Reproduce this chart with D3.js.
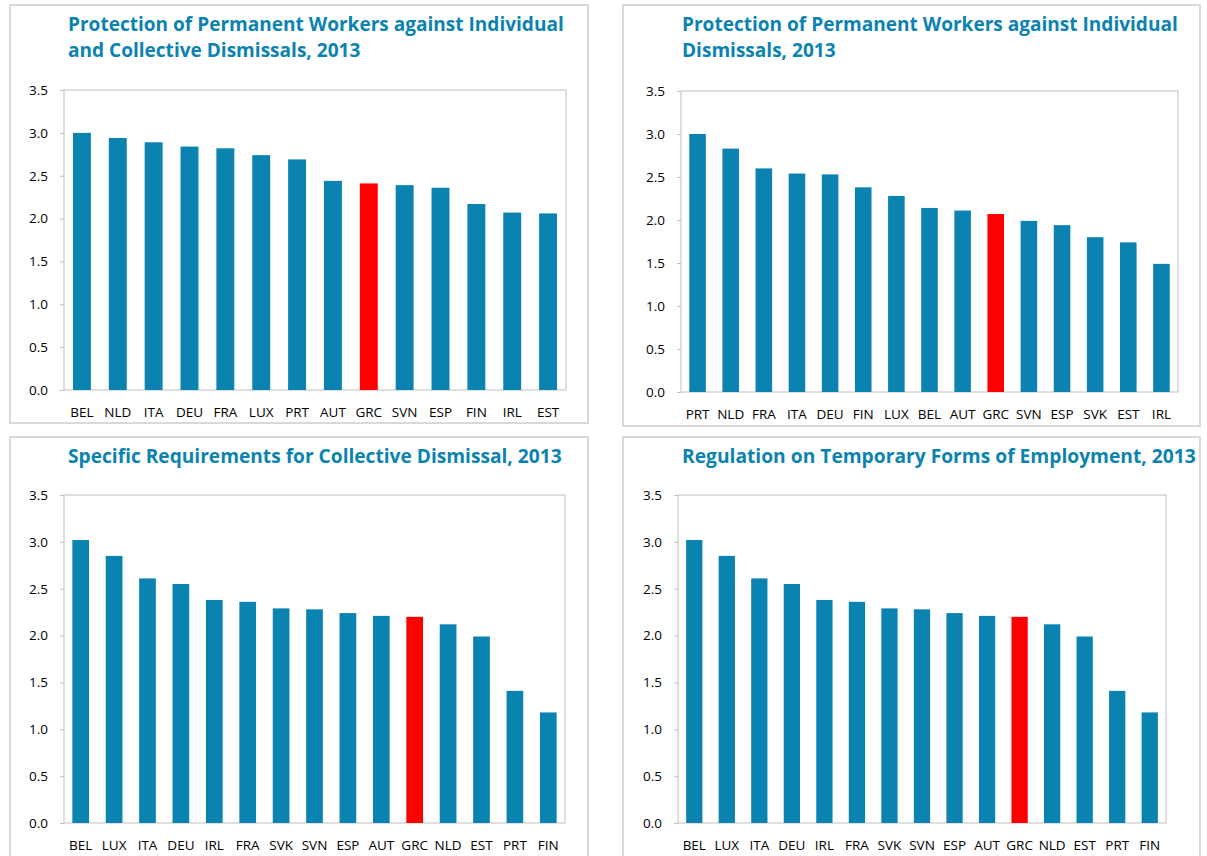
<!DOCTYPE html>
<html>
<head>
<meta charset="utf-8">
<script src="https://cdn.jsdelivr.net/npm/d3@7"></script>
<style>
  body { margin: 0; background: #fff; }
  svg { display: block; }
</style>
</head>
<body>
<svg id="Target" width="1207" height="856"></svg>
<script>

// ---- data ----
const countries1 = ["BEL", "NLD", "ITA", "DEU", "FRA", "LUX", "PRT", "AUT", "GRC", "SVN", "ESP", "FIN", "IRL", "EST"];
const values1 = [3.00, 2.94, 2.89, 2.84, 2.82, 2.74, 2.69, 2.44, 2.41, 2.39, 2.36, 2.17, 2.07, 2.06];

const countries2 = ["PRT", "NLD", "FRA", "ITA", "DEU", "FIN", "LUX", "BEL", "AUT", "GRC", "SVN", "ESP", "SVK", "EST", "IRL"];
const values2 = [3.00, 2.83, 2.60, 2.54, 2.53, 2.38, 2.28, 2.14, 2.11, 2.07, 1.99, 1.94, 1.80, 1.74, 1.49];

const countries3 = ["BEL", "LUX", "ITA", "DEU", "IRL", "FRA", "SVK", "SVN", "ESP", "AUT", "GRC", "NLD", "EST", "PRT", "FIN"];
const values3 = [3.02, 2.85, 2.61, 2.55, 2.38, 2.36, 2.29, 2.28, 2.24, 2.21, 2.20, 2.12, 1.99, 1.41, 1.18];

const countries4 = ["BEL", "LUX", "ITA", "DEU", "IRL", "FRA", "SVK", "SVN", "ESP", "AUT", "GRC", "NLD", "EST", "PRT", "FIN"];
const values4 = [3.02, 2.85, 2.61, 2.55, 2.38, 2.36, 2.29, 2.28, 2.24, 2.21, 2.20, 2.12, 1.99, 1.41, 1.18];

const yTicks = [0, 0.5, 1.0, 1.5, 2.0, 2.5, 3.0, 3.5];
const highlight = "GRC";

const blue = "#0b83b1";
const red = "#ff0000";
const font = "'Segoe UI', 'Open Sans', 'Noto Sans', sans-serif";

const svg = d3.select("#Target");

const panels = [
    {
        cats: countries1, vals: values1,
        title: ["Protection of Permanent Workers against Individual", "and Collective Dismissals, 2013"],
        box: [10, 5, 588, 423],
        plot: [64, 90, 566, 390],
        titleX: 68, titleY: 31, titleW: 496
    },
    {
        cats: countries2, vals: values2,
        title: ["Protection of Permanent Workers against Individual", "Dismissals, 2013"],
        box: [623, 5, 1200, 426],
        plot: [681, 91, 1178, 392],
        titleX: 682, titleY: 31, titleW: 496
    },
    {
        cats: countries3, vals: values3,
        title: ["Specific Requirements for Collective Dismissal, 2013"],
        box: [10, 437, 588, 870],
        plot: [64, 495, 565, 823],
        titleX: 68, titleY: 463, titleW: 494
    },
    {
        cats: countries4, vals: values4,
        title: ["Regulation on Temporary Forms of Employment, 2013"],
        box: [623, 437, 1200, 870],
        plot: [678, 495, 1166, 823],
        titleX: 682, titleY: 463, titleW: 514
    }
];

panels.forEach(p => {

    const g = svg.append("g");

    // outer frame
    g.append("rect")
        .attr("x", p.box[0])
        .attr("y", p.box[1])
        .attr("width", p.box[2] - p.box[0])
        .attr("height", p.box[3] - p.box[1])
        .attr("fill", "#fff")
        .attr("stroke", "#d9d9d9")
        .attr("stroke-width", 2);

    // title lines, squeezed to the width seen in the picture
    const titleLines = g.selectAll("text.title")
        .data(p.title)
        .enter()
        .append("text")
        .attr("class", "title")
        .attr("x", p.titleX)
        .attr("y", (d, i) => p.titleY + i * 26)
        .attr("font-family", font)
        .attr("font-weight", "bold")
        .attr("font-size", 20)
        .attr("fill", blue)
        .text(d => d);

    const w0 = titleLines.node().getComputedTextLength();
    titleLines.attr("font-size", 20 * p.titleW / w0);

    const x = d3.scaleBand()
        .domain(p.cats)
        .range([p.plot[0], p.plot[2]])
        .paddingInner(0.5)
        .paddingOuter(0.25);

    const y = d3.scaleLinear()
        .domain([0, 3.5])
        .range([p.plot[3], p.plot[1]]);

    // plot area frame
    g.append("rect")
        .attr("x", p.plot[0])
        .attr("y", p.plot[1])
        .attr("width", p.plot[2] - p.plot[0])
        .attr("height", p.plot[3] - p.plot[1])
        .attr("fill", "none")
        .attr("stroke", "#c0c0c0")
        .attr("stroke-width", 1);

    // y axis
    const yAxis = g.append("g")
        .attr("transform", `translate(${p.plot[0]},0)`)
        .call(d3.axisLeft(y).tickValues(yTicks).tickFormat(d3.format(".1f")).tickSize(4).tickPadding(12));

    yAxis.select(".domain").remove();
    yAxis.selectAll("line").attr("stroke", "#c0c0c0");
    yAxis.selectAll("text")
        .attr("font-family", font)
        .attr("font-size", 13.5)
        .attr("fill", "#000");

    // bars
    g.selectAll("rect.bar")
        .data(p.cats.map((c, i) => ({ c: c, v: p.vals[i] })))
        .enter()
        .append("rect")
        .attr("class", "bar")
        .attr("x", d => x(d.c))
        .attr("y", d => y(d.v))
        .attr("width", x.bandwidth())
        .attr("height", d => y(0) - y(d.v))
        .attr("fill", d => d.c === highlight ? red : blue);

    // x axis labels
    const xAxis = g.append("g")
        .attr("transform", `translate(0,${p.plot[3]})`)
        .call(d3.axisBottom(x).tickSize(0).tickPadding(17));

    xAxis.select(".domain").remove();
    xAxis.selectAll("text")
        .attr("font-family", font)
        .attr("font-size", 13.5)
        .attr("fill", "#000");
});

</script>
</body>
</html>
